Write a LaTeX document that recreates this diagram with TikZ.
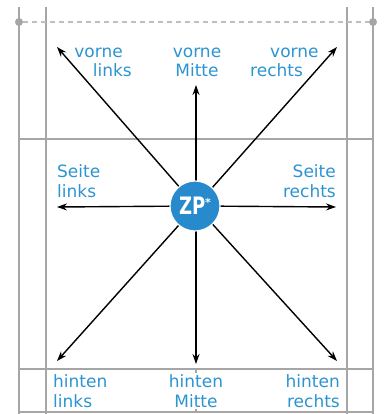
\documentclass[tikz,border=0pt]{standalone}
\usepackage{fontspec}
\setmainfont{DejaVu Sans}
\usetikzlibrary{arrows.meta}
\definecolor{zpblue}{RGB}{38,138,204}
\definecolor{lblblue}{RGB}{45,148,208}
\definecolor{gridgray}{RGB}{166,166,166}
\definecolor{dashgray}{RGB}{190,190,190}
\begin{document}
\begin{tikzpicture}[
    x=1pt, y=-1pt,
    % looks
    grid/.style={draw=gridgray, line width=2.4pt},
    guide/.style={draw=dashgray, line width=1.6pt, dash pattern=on 5pt off 4pt},
    gdot/.style={circle, fill=gridgray, minimum size=8pt, inner sep=0pt},
    arr/.style={draw, line width=1.4pt, -{Stealth[length=10pt, width=7pt]}},
    lbl/.style={text=lblblue, inner sep=0pt, font=\fontsize{17}{19.5}\selectfont},
    zp/.style={circle, fill=zpblue, draw=white, line width=1.2pt, minimum size=50pt, inner sep=0pt,
        text=white, font=\fontsize{24}{24}\selectfont\bfseries},
]
\useasboundingbox (0,0) rectangle (384,414);

% =========================================================
% Raster
% =========================================================
\draw[grid] (19,7) -- (19,414);
\draw[grid] (46,7) -- (46,414);
\draw[grid] (347,7) -- (347,414);
\draw[grid] (373,7) -- (373,414);
\draw[grid] (19,139) -- (373,139);
\draw[grid] (19,369) -- (373,369);
\draw[grid] (19,412) -- (373,412);
\draw[grid] (196,369) -- (196,412);

% guide line with end dots
\node[gdot] (gL) at (19,22) {};
\node[gdot] (gR) at (373,22) {};
\draw[guide] (gL) -- (gR);

% =========================================================
% Zero point and directions
% =========================================================
\coordinate (tUL) at (57,47);
\coordinate (tUM) at (196,85);
\coordinate (tUR) at (337,47);
\coordinate (tML) at (57,207);
\coordinate (tMR) at (336,207);
\coordinate (tLL) at (57,361);
\coordinate (tLM) at (196,364);
\coordinate (tLR) at (337,361);

\draw[arr] (196,206) -- (tUL);
\draw[arr] (196,206) -- (tUM);
\draw[arr] (196,206) -- (tUR);
\draw[arr] (196,206) -- (tML);
\draw[arr] (196,206) -- (tMR);
\draw[arr] (196,206) -- (tLL);
\draw[arr] (196,206) -- (tLM);
\draw[arr] (196,206) -- (tLR);

\node[zp] (zp) at (195,206) {\scalebox{0.75}[1]{ZP}\raisebox{8pt}{\fontsize{11}{11}\selectfont*}};

% =========================================================
% Labels (anchored at the baseline of the lower line)
% =========================================================
\node[lbl, align=right,  anchor=base east] (vl) at (132,77) {vorne\hspace*{9pt}\\links};
\node[lbl, align=center, anchor=base]      (vm) at (197,77) {vorne\\Mitte};
\node[lbl, align=left,   anchor=base west] (vr) at (250,77) {\hspace*{20pt}vorne\\rechts};

\node[lbl, align=left,  anchor=base west] (sl) at (57,197)  {Seite\\links};
\node[lbl, align=right, anchor=base east] (sr) at (336,197) {Seite\\rechts};

\node[lbl, align=left,   anchor=base west] (hl) at (53,407)  {hinten\\links};
\node[lbl, align=center, anchor=base, fill=white, inner xsep=9pt, inner ysep=2pt]
                                           (hm) at (196,407) {hinten\\Mitte};
\node[lbl, align=right,  anchor=base east] (hr) at (340,407) {hinten\\rechts};

\end{tikzpicture}
\end{document}
